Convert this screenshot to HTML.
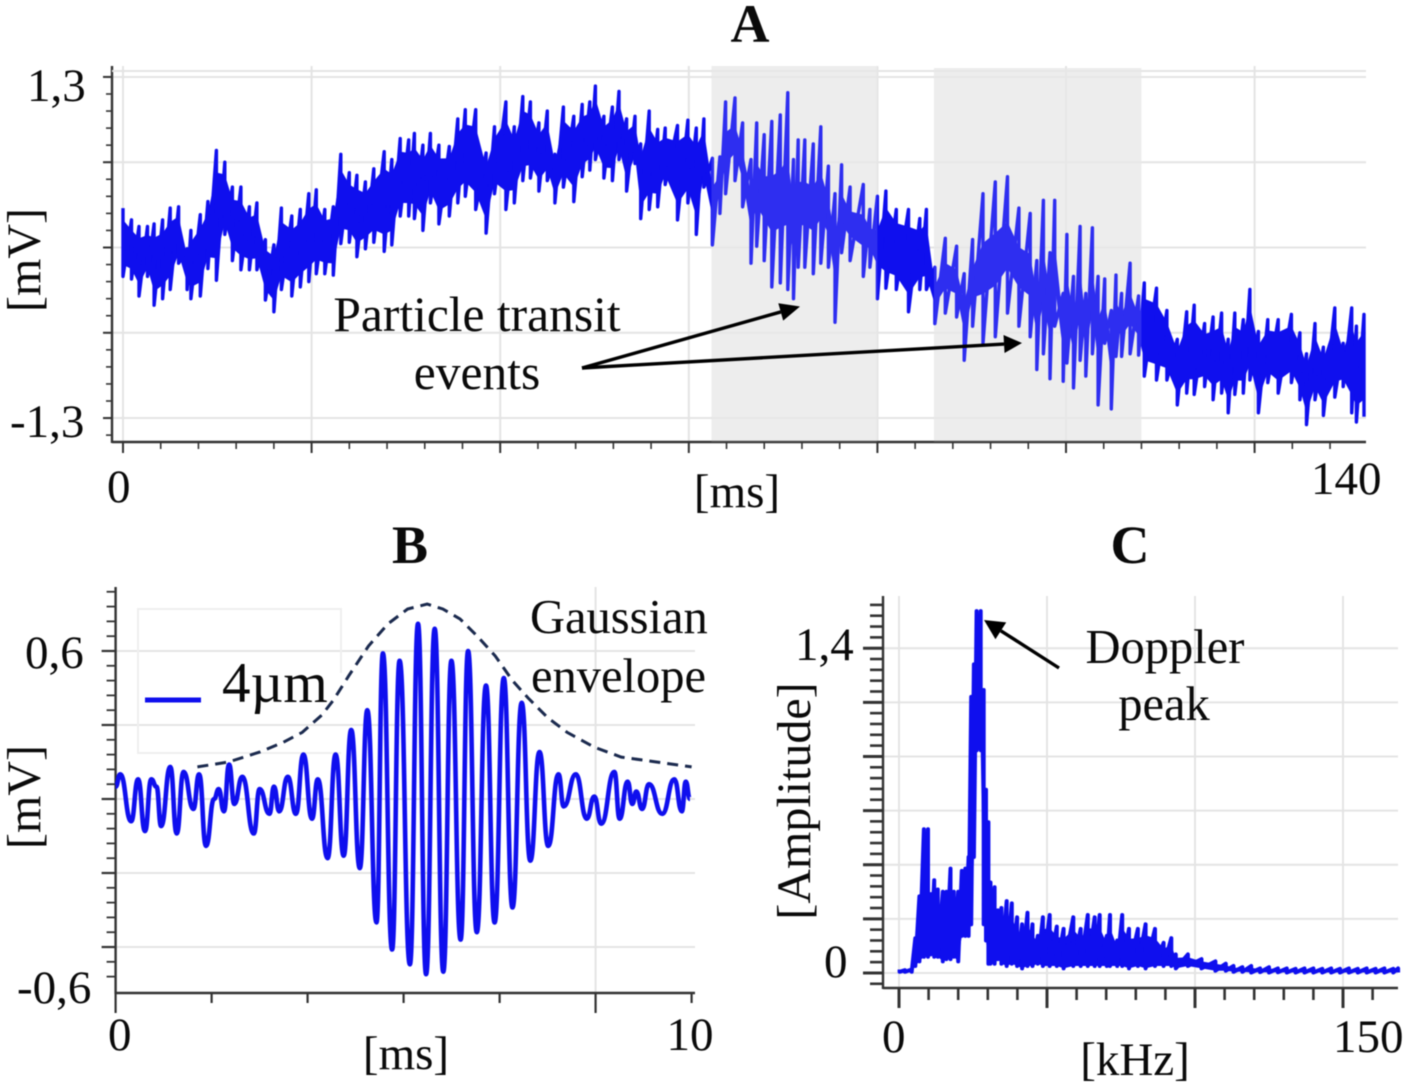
<!DOCTYPE html>
<html lang="en">
<head>
<meta charset="utf-8">
<title>Particle transit signal figure</title>
<style>
html,body{margin:0;padding:0;background:#fff;width:1405px;height:1088px;overflow:hidden}
svg{display:block;filter:blur(0.45px)}
text{font-family:"Liberation Serif","DejaVu Serif",serif;font-size:47px;fill:#0a0a0a}
.title{font-weight:bold;font-size:54px;text-anchor:middle}
.mid{text-anchor:middle}
.note{font-size:49.5px}
.note2{font-size:48.5px}
</style>
</head>
<body>
<svg id="figure" xmlns="http://www.w3.org/2000/svg" width="1405" height="1088" viewBox="0 0 1405 1088">
<g id="layer-a"></g>
<g id="layer-b"></g>
<g id="layer-c"></g>
<g id="labels">
<text class="title" x="750" y="42">A</text>
<text x="27" y="101">1,3</text>
<text x="10" y="437">-1,3</text>
<text class="mid" style="font-size:48px" transform="translate(40,260) rotate(-90)">[mV]</text>
<text x="107" y="502">0</text>
<text class="mid" x="737" y="507">[ms]</text>
<text x="1311" y="494">140</text>
<text class="mid note" x="477" y="331">Particle transit</text>
<text class="mid note" x="477" y="389">events</text>

<text class="title" x="410" y="563">B</text>
<text x="25" y="668">0,6</text>
<text x="17" y="1003">-0,6</text>
<text class="mid" style="font-size:48px" transform="translate(40,797) rotate(-90)">[mV]</text>
<text x="108" y="1050">0</text>
<text class="mid" x="406" y="1069">[ms]</text>
<text class="mid" x="690" y="1050">10</text>
<text x="222" y="702" style="font-size:57px">4µm</text>
<text class="note2" x="530" y="633">Gaussian</text>
<text class="note2" x="531" y="692">envelope</text>

<text class="title" x="1130" y="563">C</text>
<text x="795" y="660">1,4</text>
<text x="824" y="977">0</text>
<text class="mid" style="font-size:48px" transform="translate(810,801) rotate(-90)">[Amplitude]</text>
<text x="882" y="1052">0</text>
<text class="mid" x="1135" y="1075">[kHz]</text>
<text x="1333" y="1052">150</text>
<text class="mid note2" x="1165" y="663">Doppler</text>
<text class="mid note2" x="1164" y="720">peak</text>
</g>
</svg>
<script>
// ---------- Panel A data ----------
const aTime = [0,.9,1.7,2.6,3.3,4.2,5,5.9,6.8,7.2,
8.2,9,9.9,10.8,11.6,12.5,13.4,14.2,15.1,16,
16.8,17.9,18.8,19.7,20.5,21.4,22.3,23.1,24,24.8,
25.7,26.6,27.7,28.5,29.4,30.3,30.9,31.8,32.6,33.5,
34.6,35.5,36.3,37.4,38.5,39.4,40.6,41.5,42.4,43.2,
44.1,45,45.8,46.7,47.8,48.7,49.5,50.1,51,51.9,
52.6,53.4,54.3,54.9,55.8,56.7,57.5,58.8,59.9,60.8,
61.6,62.5,
63.3,63.9,64.9,65.7,66.6,67.2,68,68.8,69.7,70.5,
71.1,71.6,72.3,73.2,74,74.8,75.5,76.2,77.1,78.5,
79.2,80,80.9,82,83.3,84.5,85.2,86.1,87.2,88.4,
89.2,90.1,91.2,92.5,93.8,95,96.2,96.9,97.6,98.3,
98.8,99.7,100.1,100.8,101.5,102.1,102.8,103.4,104.1,104.8,
105.3,105.9,106.8,107.7,108.3,109.6,110.7,111.8,112.8,113.6,
114.7,115.6,116.5,117.2,117.9,118.8,119.5,120.4,121.4,122.5,
123.9,124.8,125.5,126.4,127.3,128.5,129.4,130.3,130.8,131.6];
const aHigh = [.30,.21,.16,.16,.18,.21,.30,.31,-.01,.13,
.25,.35,.74,.65,.46,.46,.31,.34,.06,.02,
.30,.24,.29,.41,.44,.29,.31,.71,.57,.55,
.50,.60,.73,.67,.83,.82,.87,.78,.87,.78,
.77,.98,1.05,1.05,.72,.92,1.11,.92,1.15,1.11,
.95,1.04,.71,1.07,1.00,1.09,1.11,1.23,1.00,1.07,
1.19,.98,1.00,.79,1.04,.90,.91,.93,.97,.91,
.98,.68,
.69,1.11,1.14,.95,.67,.95,.86,.96,1.01,1.18,
.67,.82,.82,.79,.92,.62,.41,.63,.46,.48,
.29,.39,.43,.29,.29,.22,.29,-.15,.07,.01,
-.20,.06,.41,.50,.54,.30,.26,-.10,.36,-.04,
.36,-.35,.10,-.22,.16,-.35,.15,-.22,-.24,-.48,
-.21,-.35,-.12,-.37,-.27,-.31,-.48,-.70,-.49,-.44,
-.58,-.53,-.50,-.70,-.50,-.55,-.32,-.64,-.55,-.55,
-.51,-.65,-.81,-.58,-.76,-.46,-.73,-.46,-.60,-.51];
const aLow = [-.22,-.24,-.37,-.22,-.44,-.39,-.32,-.12,-.32,-.39,
-.37,-.16,-.25,.10,-.10,-.17,-.17,-.17,-.40,-.49,
-.32,-.37,-.30,-.26,-.20,-.20,-.21,.03,.04,-.07,
-.01,.04,-.03,.02,.24,.24,.22,.13,.34,.18,
.24,.34,.39,.29,.11,.41,.29,.34,.51,.53,
.43,.51,.34,.46,.35,.54,.59,.67,.53,.51,
.67,.43,.64,.22,.29,.31,.48,.21,.34,.10,
.46,.02,
.26,.41,.51,.31,-.12,.01,-.10,-.30,-.27,-.32,
-.39,-.15,-.15,-.20,-.12,-.15,-.57,-.04,-.10,-.22,
-.15,-.39,-.31,-.32,-.49,-.32,-.32,-.58,-.50,-.53,
-.86,-.60,-.73,-.68,-.50,-.60,-.68,-.93,-.81,-1.00,
-.60,-1.02,-.88,-1.07,-.86,-.98,-.81,-1.20,-.73,-1.23,
-.83,-.83,-.81,-.82,-.98,-1.01,-1.01,-1.20,-1.11,-1.12,
-1.06,-1.16,-1.11,-1.26,-1.12,-1.11,-1.01,-1.26,-1.03,-1.11,
-1.03,-1.16,-1.35,-1.16,-1.28,-1.14,-1.06,-1.26,-1.33,-1.29];
const aXTicks = [0,20,40,60,80,100,120];
const aYTicks = [1.3,.65,0,-.65,-1.3];
const aEventStart = [62.4,86];
const aEventEnd = [80,108];

// ---------- Panel B data ----------
const bTime = [0,.08,.27,.39,.51,.62,.71,.79,.95,1.06,
1.18,1.35,1.45,1.57,1.71,1.79,1.88,1.97,2.06,2.2,
2.4,2.5,2.67,2.75,2.84,2.99,3.13,3.26,3.41,3.51,
3.68,3.82,3.96,4.09,4.24,4.37,4.53,4.64,4.8,4.93,
5.11,5.25,5.39,5.54,5.69,5.83,5.99,6.12,6.27,6.43,
6.58,6.74,6.89,7.05,7.2,7.36,7.51,7.69,7.78,7.99,
8.18,8.31,8.43,8.66,8.75,8.89,8.97,9.04,9.14,9.26,
9.49,9.7,9.83,9.9,9.97];
const bSignal = [.05,.10,-.09,.08,-.13,.08,.05,-.11,.13,-.14,
.11,-.04,.10,-.19,0,.04,-.05,.14,-.02,.09,
-.14,.04,-.06,.05,-.05,.09,-.06,.18,-.08,.08,
-.24,.18,-.23,.28,-.28,.36,-.50,.59,-.61,.56,
-.67,.71,-.71,.69,-.70,.56,-.57,.60,-.54,.46,
-.50,.49,-.44,.39,-.25,.19,-.19,.10,-.03,.10,
-.08,.01,-.10,.11,-.08,.07,-.02,.03,-.04,.06,
-.06,.08,-.05,.07,0];
const bEnvTime = [1.42,1.96,2.5,2.91,3.24,3.58,3.78,4.05,4.39,4.73,5.07,5.41,5.68,5.98,6.28,6.59,6.89,7.16,7.5,7.84,8.31,8.78,9.39,10];
const bEnvelope = [.13,.15,.19,.23,.27,.34,.40,.50,.62,.71,.77,.79,.77,.73,.66,.58,.48,.41,.33,.27,.21,.17,.15,.13];
const bXTicks = [0,1.667,3.333,5,6.667,8.333,10];
const bYTicks = [.6,.3,0,-.3,-.6];

// ---------- Panel C data ----------
const cFreq = [.2,2,4.3,5.5,6.9,8.4,9.8,10.7,11.9,13.1,14.8,
16,17.4,18.5,20,21.2,22.4,23.5,24.4,25.3,26.2,
27.6,28.6,29.4,30.2,30.9,32.3,33.4,34.6,36.4,38.1,
39.9,41.6,43.4,45.1,46.9,48.6,50.9,53.3,55.6,58.9,
61.4,63.8,66.1,67.8,70.2,71.3,73.7,75.4,77.7,80.7,
83.3,86.5,89.4,92,93.5,97.6,102.2,106.9,110.4,113,
116,119,122,125,128,131,134,137,140,143,
146,149,152,155,158,161,164,167,168.6];
const cHigh = [.015,.012,.015,.15,.33,.62,.62,.34,.40,.36,.35,
.35,.45,.35,.35,.44,.45,.50,1.19,1.33,1.56,
1.56,1.22,.79,.65,.39,.37,.27,.28,.31,.30,
.24,.21,.26,.21,.16,.24,.25,.20,.19,.24,
.19,.25,.24,.25,.16,.25,.14,.25,.19,.19,
.21,.19,.13,.15,.08,.08,.06,.05,.04,.03,
.025,.03,.02,.025,.02,.02,.018,.02,.02,.018,
.02,.018,.02,.018,.02,.018,.02,.018,.02];
const cLow = [.005,.005,.005,.03,.05,.07,.07,.08,.07,.07,.05,
.06,.06,.07,.05,.16,.16,.16,.21,.50,.96,
.96,.21,.14,.04,.04,.04,.06,.04,.03,.04,
.03,.02,.03,.03,.04,.03,.03,.03,.02,.03,
.03,.03,.03,.03,.03,.03,.03,.03,.02,.03,
.02,.03,.03,.03,.02,.03,.02,.01,.01,.005,
.005,.002,.004,.002,.003,.002,.002,.002,.002,.002,
.002,.002,.002,.002,.002,.002,.002,.002,.002];
const cXTicks = [0,50,100,150];
const cYTicks = [1.4,1.1667,.9333,.7,.4667,.2333,0];

// ---------- scales ----------
const xA = t => 123 + 9.43 * t;
const yA = v => 247.5 - 131.2 * v;
const xB = t => 115.6 + 57.6 * t;
const yB = v => 799 - 246.7 * v;
const xC = f => 899 + 2.96 * f;
const yC = v => 973 - 232 * v;

const NS = 'http://www.w3.org/2000/svg';
const GRID = '#e4e4e4';
const AXIS = '#333333';
const BLUE = '#0f0fee';

function make(parent, tag, attrs) {
  const el = document.createElementNS(NS, tag);
  for (const k in attrs) el.setAttribute(k, attrs[k]);
  parent.appendChild(el);
  return el;
}

function drawGridAndAxes(g, o) {
  o.yTicks.forEach(function (v) {
    const y = o.y(v);
    const gl = make(g, 'line', {x1: o.left, x2: o.right, y1: y, y2: y, stroke: GRID, 'stroke-width': 2});
    
    
    const t = make(g, 'line', {x1: o.left - o.yMajor, x2: o.left, y1: y, y2: y, stroke: AXIS, 'stroke-width': o.tickW});
    
    
  });
  const yStep = Math.abs(o.y(o.yTicks[1]) - o.y(o.yTicks[0])) / 5;
  for (let y = o.y(o.yTicks[0]) - yStep * 5; y < o.bottom - 2; y += yStep) {
    if (y < o.top) continue;
    const t = make(g, 'line', {x1: o.left - o.yMinor, x2: o.left, y1: y, y2: y, stroke: AXIS, 'stroke-width': o.minorW});
    
    
  }
  o.xTicks.forEach(function (v) {
    const x = o.x(v);
    if (o.gridX.indexOf(v) >= 0) {
      const gl = make(g, 'line', {x1: x, x2: x, y1: o.top, y2: o.bottom, stroke: GRID, 'stroke-width': 2});
      
      
    }
    const isLong = o.longX.indexOf(v) >= 0;
    const t = make(g, 'line', {x1: x, x2: x, y1: o.bottom, y2: o.bottom + (isLong ? o.xMajor : o.xMid), stroke: AXIS, 'stroke-width': o.tickW});
    
    
  });
  if (o.xMinorPerMajor > 1) {
    const xStep = (o.x(o.xTicks[1]) - o.x(o.xTicks[0])) / o.xMinorPerMajor;
    for (let x = o.x(o.xTicks[0]); x < o.right; x += xStep) {
      const t = make(g, 'line', {x1: x, x2: x, y1: o.bottom, y2: o.bottom + o.xMinor, stroke: AXIS, 'stroke-width': o.minorW});
      
      
    }
  }
  const ya = make(g, 'line', {x1: o.left, x2: o.left, y1: o.top, y2: o.bottom + 1, stroke: AXIS, 'stroke-width': 2.4});
  
  
  const xa = make(g, 'line', {x1: o.left, x2: o.right, y1: o.bottom, y2: o.bottom, stroke: AXIS, 'stroke-width': 2.4});
  
  
}

// comb trace: each sample is a vertical stroke from its high to its low value
function comb(times, hi, lo, x, y) {
  const pts = [];
  const n = Math.min(times.length, hi.length, lo.length);
  for (let i = 0; i < n; i++) {
    pts.push(x(times[i]).toFixed(1) + ',' + y(hi[i]).toFixed(1));
    pts.push(x(times[i]).toFixed(1) + ',' + y(lo[i]).toFixed(1));
  }
  return pts.join(' ');
}

// solid centre of a noisy trace, taken from each sample's own range
function jaggedCore(times, hi, lo, x, y, frac) {
  const top = [], bot = [];
  const n = Math.min(times.length, hi.length, lo.length);
  for (let i = 0; i < n; i++) {
    const mid = (hi[i] + lo[i]) / 2;
    const half = (hi[i] - lo[i]) * frac(times[i]);
    top.push(x(times[i]).toFixed(1) + ',' + y(mid + half).toFixed(1));
    bot.unshift(x(times[i]).toFixed(1) + ',' + y(mid - half).toFixed(1));
  }
  return top.concat(bot).join(' ');
}

function lowerCore(times, hi, lo, x, y, upper) {
  const top = [], bot = [];
  const n = Math.min(times.length, hi.length, lo.length);
  for (let i = 0; i < n; i++) {
    top.push(x(times[i]).toFixed(1) + ',' + y(lo[i] + (hi[i] - lo[i]) * upper).toFixed(1));
    bot.unshift(x(times[i]).toFixed(1) + ',' + y(lo[i]).toFixed(1));
  }
  return top.concat(bot).join(' ');
}

function arrow(g, x1, y1, x2, y2, w, len, half, name) {
  const ang = Math.atan2(y2 - y1, x2 - x1);
  const bx = x2 - Math.cos(ang) * len, by = y2 - Math.sin(ang) * len;
  const shaft = make(g, 'line', {x1: x1, y1: y1, x2: bx, y2: by, stroke: '#000', 'stroke-width': w});
  
  
  const px = -Math.sin(ang) * half, py = Math.cos(ang) * half;
  const head = make(g, 'polygon', {points: x2 + ',' + y2 + ' ' + (bx + px) + ',' + (by + py) + ' ' + (bx - px) + ',' + (by - py), fill: '#000'});
  
  
}

// ---------- Panel A ----------
(function () {
  const g = document.getElementById('layer-a');
  aEventStart.forEach(function (s, i) {
    const r = make(g, 'rect', {x: xA(s), y: 66 + i * 2, width: xA(aEventEnd[i]) - xA(s), height: 376 - i * 2, fill: '#ebebeb'});
    
    
  });
  drawGridAndAxes(g, {x: xA, y: yA, xTicks: aXTicks, yTicks: aYTicks, gridX: aXTicks, longX: aXTicks,
    left: 112, right: 1366, top: 66, bottom: 442, yMajor: 9, yMinor: 6, xMajor: 11, xMid: 11, xMinor: 7,
    xMinorPerMajor: 5, tickW: 2, minorW: 1.6});
  const topLine = make(g, 'line', {x1: 112, x2: 1366, y1: 71, y2: 71, stroke: GRID, 'stroke-width': 2});
  
  
  const inEvent = function (t) {
    return aEventStart.some(function (s, i) { return t >= s && t <= aEventEnd[i]; });
  };
  const band = make(g, 'polygon', {points: jaggedCore(aTime, aHigh, aLow, xA, yA, function (t) { return inEvent(t) ? .17 : .33; }), fill: BLUE});
  
  
  const trace = make(g, 'polyline', {points: comb(aTime, aHigh, aLow, xA, yA), fill: 'none', stroke: BLUE, 'stroke-width': 3.4, 'stroke-linejoin': 'round'});
  
  
  aEventStart.forEach(function (s, i) {
    const r = make(g, 'rect', {x: xA(s), y: 66 + i * 2, width: xA(aEventEnd[i]) - xA(s), height: 376 - i * 2, fill: '#ffffff', 'fill-opacity': .13});
    
    
  });
  arrow(g, 582, 368, 800, 306.5, 3.4, 20, 9, 'arrow-event-1');
  arrow(g, 582, 368, 1022, 343, 3.4, 18, 9, 'arrow-event-2');
})();

// ---------- Panel B ----------
(function () {
  const g = document.getElementById('layer-b');
  drawGridAndAxes(g, {x: xB, y: yB, xTicks: bXTicks, yTicks: bYTicks, gridX: [0, 8.333], longX: [0, 8.333],
    left: 115.6, right: 695, top: 587, bottom: 993, yMajor: 14, yMinor: 9, xMajor: 20, xMid: 10, xMinor: 0,
    xMinorPerMajor: 1, tickW: 2.2, minorW: 1.8});
  const legendBox = make(g, 'path', {d: 'M341 673V609H138V753H341', fill: 'none', stroke: '#efefef', 'stroke-width': 2});
  
  
  const legendLine = make(g, 'line', {x1: 145, x2: 201, y1: 700, y2: 700, stroke: BLUE, 'stroke-width': 5});
  
  
  let d = 'M' + xB(bTime[0]).toFixed(1) + ' ' + yB(bSignal[0]).toFixed(1);
  for (let i = 1; i < Math.min(bTime.length, bSignal.length); i++) {
    const x0 = xB(bTime[i - 1]), x1 = xB(bTime[i]), mx = (x0 + x1) / 2;
    d += 'C' + mx.toFixed(1) + ' ' + yB(bSignal[i - 1]).toFixed(1) + ' ' + mx.toFixed(1) + ' ' + yB(bSignal[i]).toFixed(1) + ' ' + x1.toFixed(1) + ' ' + yB(bSignal[i]).toFixed(1);
  }
  const trace = make(g, 'path', {d: d, fill: 'none', stroke: BLUE, 'stroke-width': 4.6, 'stroke-linejoin': 'round'});
  
  
  let pts = [];
  for (let i = 0; i < Math.min(bEnvTime.length, bEnvelope.length); i++) {
    pts.push(xB(bEnvTime[i]).toFixed(1) + ',' + yB(bEnvelope[i]).toFixed(1));
  }
  const env = make(g, 'polyline', {points: pts.join(' '), fill: 'none', stroke: '#1b2a4e', 'stroke-width': 3, 'stroke-dasharray': '11 7'});
  
  
})();

// ---------- Panel C ----------
(function () {
  const g = document.getElementById('layer-c');
  drawGridAndAxes(g, {x: xC, y: yC, xTicks: cXTicks, yTicks: cYTicks, gridX: cXTicks, longX: cXTicks,
    left: 883, right: 1398, top: 596, bottom: 988, yMajor: 20, yMinor: 13, xMajor: 20, xMid: 20, xMinor: 12,
    xMinorPerMajor: 5, tickW: 3, minorW: 2.6});
  const band = make(g, 'polygon', {points: lowerCore(cFreq, cHigh, cLow, xC, yC, .75), fill: BLUE});
  
  
  const trace = make(g, 'polyline', {points: comb(cFreq, cHigh, cLow, xC, yC), fill: 'none', stroke: BLUE, 'stroke-width': 4, 'stroke-linejoin': 'round'});
  
  
  arrow(g, 1059, 668, 984, 620, 3.4, 20, 10, 'arrow-doppler-peak');
})();
</script>
</body>
</html>
